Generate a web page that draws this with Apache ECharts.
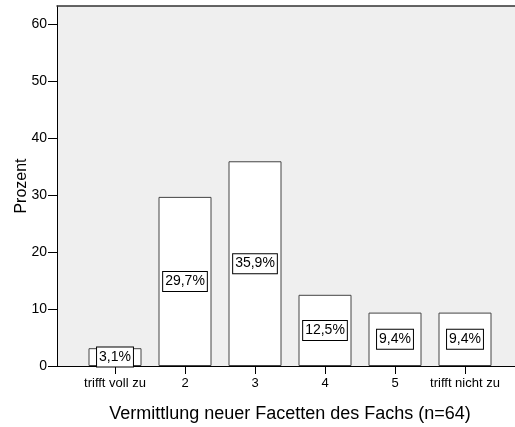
<!DOCTYPE html>
<html>
<head>
<meta charset="utf-8">
<script src="https://cdn.jsdelivr.net/npm/echarts@6/dist/echarts.min.js"></script>
<style>html,body{margin:0;padding:0;background:#fff}#c{width:515px;height:427px}</style>
</head>
<body>
<div id="c"></div>
<script>
const categories = ['trifft voll zu', '2', '3', '4', '5', 'trifft nicht zu'];
const values = [3.125, 29.69, 35.94, 12.5, 9.375, 9.375];
const valueLabels = ['3,1%', '29,7%', '35,9%', '12,5%', '9,4%', '9,4%'];
const yTicks = [0, 10, 20, 30, 40, 50, 60];
const yMax = 63.2;
const xTitle = 'Vermittlung neuer Facetten des Fachs (n=64)';
const yTitle = 'Prozent';

const font = 'Liberation Sans, Arial, sans-serif';
const chart = echarts.init(document.getElementById('c'), null, {renderer: 'canvas'});
chart.setOption({
  animation: false,
  grid: [
    {left: 57, right: 0, top: 6, bottom: 61, show: true, backgroundColor: '#efefef', borderWidth: 0,
     containLabel: false, outerBoundsMode: 'none'},
    {left: 80, right: 15, top: 6, bottom: 61, containLabel: false, outerBoundsMode: 'none'}
  ],
  xAxis: [
    {gridIndex: 0, type: 'value', min: 0, max: 1, position: 'bottom',
     axisLine: {show: true, lineStyle: {color: '#000', width: 1}}, axisTick: {show: false},
     axisLabel: {show: false}, splitLine: {show: false}},
    {gridIndex: 0, type: 'value', min: 0, max: 1, position: 'top',
     axisLine: {show: true, lineStyle: {color: '#333', width: 1.5}}, axisTick: {show: false},
     axisLabel: {show: false}, splitLine: {show: false}},
    {gridIndex: 1, type: 'category', data: categories, position: 'bottom',
     axisLine: {show: false},
     axisTick: {show: true, alignWithLabel: true, length: 8, lineStyle: {color: '#000'}},
     axisLabel: {color: '#000', fontSize: 13, fontFamily: font, margin: 11, interval: 0},
     name: xTitle, nameLocation: 'middle', nameGap: 39, nameMoveOverlap: false,
     nameTextStyle: {color: '#000', fontSize: 18, fontFamily: font}}
  ],
  yAxis: [
    {gridIndex: 0, type: 'value', min: 0, max: yMax,
     axisLine: {show: true, lineStyle: {color: '#000', width: 1}},
     axisTick: {show: true, length: 9, customValues: yTicks, lineStyle: {color: '#000'}},
     axisLabel: {color: '#000', fontSize: 14, fontFamily: font, margin: 10, customValues: yTicks},
     splitLine: {show: false},
     name: yTitle, nameLocation: 'middle', nameRotate: 90, nameGap: 27, nameMoveOverlap: false,
     nameTextStyle: {color: '#000', fontSize: 16, fontFamily: font}},
    {gridIndex: 1, type: 'value', min: 0, max: yMax, show: false, splitLine: {show: false}}
  ],
  series: [{
    type: 'bar', xAxisIndex: 2, yAxisIndex: 1, data: values, barWidth: 53,
    itemStyle: {color: '#fff', borderColor: '#444', borderWidth: 1},
    label: {show: true, position: 'inside', color: '#000', fontSize: 14, fontFamily: font,
      backgroundColor: '#fff', borderColor: '#000', borderWidth: 1, padding: [3, 2, 2, 2],
      formatter: p => valueLabels[p.dataIndex]}
  }]
});
</script>
</body>
</html>
